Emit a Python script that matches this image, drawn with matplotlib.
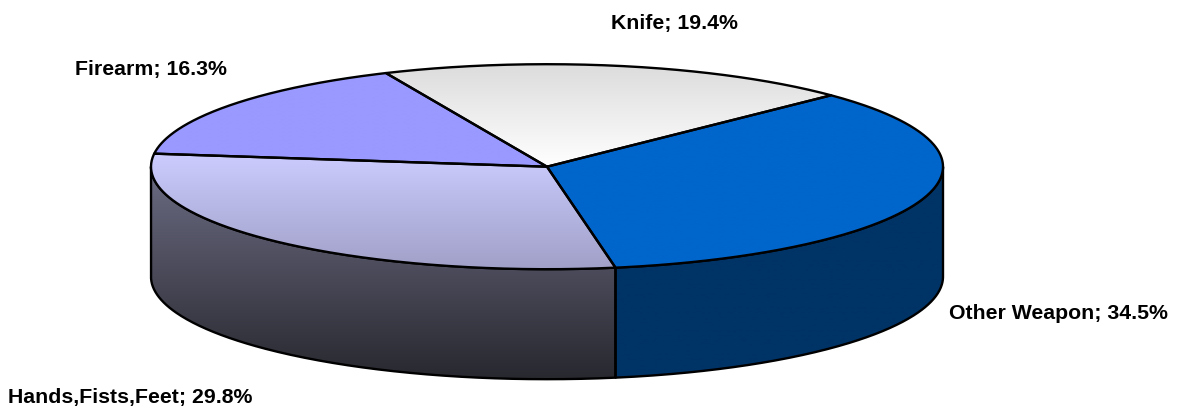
import numpy as np
import matplotlib
matplotlib.use('Agg')
import matplotlib.pyplot as plt
from matplotlib.colors import LinearSegmentedColormap
from matplotlib.patches import PathPatch
from matplotlib.path import Path

plt.rcParams['font.family'] = ['Liberation Sans', 'DejaVu Sans']

labels = ['Knife', 'Other Weapon', 'Hands,Fists,Feet', 'Firearm']
values = [19.4, 34.5, 29.8, 16.3]
top_colors = [('#DCDCDC', '#FFFFFF'), ('#0066CC', '#0066CC'),
              ('#CCCCFF', '#A0A0C8'), ('#9999FF', '#9999FF')]
side_colors = [('#DCDCDC', '#FFFFFF'), ('#003366', '#003366'),
               ('#6C6C84', '#28282F'), ('#9999FF', '#9999FF')]
label_pos = [(674, 23), (1058, 314), (130, 398), (151, 69)]

cx, cy = 547, 167.7
rx, ry = 396, 102.5
depth = 110
start = 114

fig = plt.figure(figsize=(11.81, 4.10), dpi=100)
ax = fig.add_axes([0, 0, 1, 1])
ax.axis('off')


def rim(a, b, dy=0):
    t = np.radians(np.linspace(a, b, 200))
    return np.column_stack([cx + rx * np.cos(t), cy - ry * np.sin(t) + dy])


def fill(verts, colors, z):
    # gradient image clipped to the shape, top to bottom of the shape
    verts = np.vstack([verts, verts[:1]])
    path = Path(verts)
    y0, y1 = verts[:, 1].min(), verts[:, 1].max()
    cmap = LinearSegmentedColormap.from_list('g', colors)
    im = ax.imshow(np.linspace(0, 1, 256).reshape(-1, 1), cmap=cmap, aspect='auto',
                   extent=(cx - rx - 2, cx + rx + 2, y1, y0), zorder=z, interpolation='bilinear')
    im.set_clip_path(PathPatch(path, transform=ax.transData))
    ax.add_patch(PathPatch(path, fc='none', ec='black', lw=1.7, zorder=z + 1, joinstyle='round'))


# side wall: only the front half of the rim shows
angle = start
for i, v in enumerate(values):
    end = angle - v * 3.6
    lo, hi = max(end, -180), min(angle, 0)
    if hi > lo:
        wall = np.vstack([rim(hi, lo), rim(lo, hi, depth)])
        fill(wall, side_colors[i], 2)
    angle = end

angle = start
for i, v in enumerate(values):
    end = angle - v * 3.6
    wedge = np.vstack([[[cx, cy]], rim(angle, end)])
    fill(wedge, top_colors[i], 5)
    angle = end

ax.set_xlim(0, 1181)
ax.set_ylim(410, 0)

for name, v, (x, y) in zip(labels, values, label_pos):
    ax.text(x, y, f'{name}; {v}%', ha='center', va='center', fontsize=15.3,
            fontweight='bold', color='black', zorder=10)

fig.savefig('out.png', dpi=100, facecolor='white')
